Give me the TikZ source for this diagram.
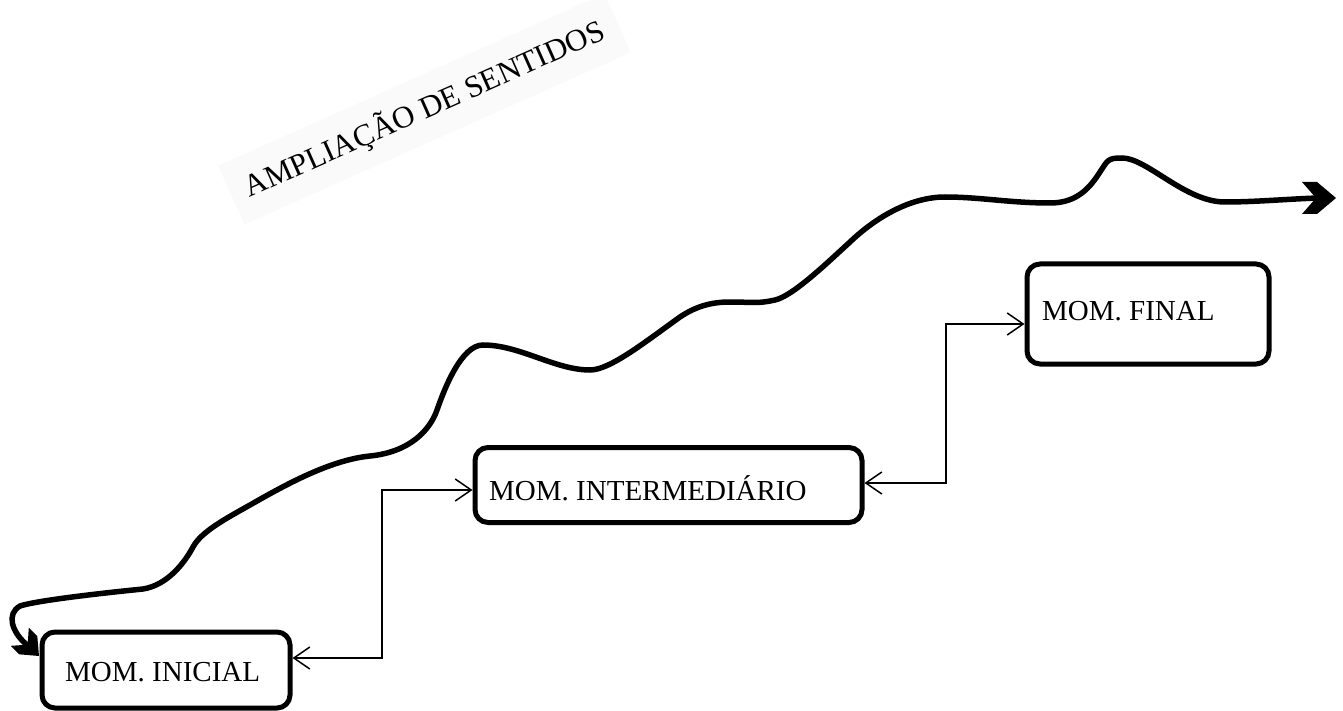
\documentclass[tikz,border=0pt]{standalone}
\usepackage{fontspec}
\setmainfont{Liberation Serif}
\usetikzlibrary{arrows.meta,calc}
\begin{document}
\begin{tikzpicture}[x=1pt,y=-1pt,
  box/.style={draw, line width=5pt, rounded corners=13pt, inner sep=0pt},
  lbl/.style={anchor=base west, inner sep=0pt, font=\fontsize{29}{34}\selectfont},
  conn/.style={line width=1.5pt, {Straight Barb[length=16pt,width=22pt]}-{Straight Barb[length=16pt,width=22pt]}},
  wave/.style={line width=5.5pt, line cap=round},
  chev/.pic={\fill (0,0) -- (-19,-16) -- (-34,-16) -- (-20,0) -- (-34,16) -- (-19,16) -- cycle;}]
\useasboundingbox (0,0) rectangle (1343,711);

% title
\node[rotate=24, anchor=base west, font=\fontsize{31}{36}\selectfont, fill=black!2, inner sep=16pt] (title) at (235,204) {AMPLIAÇÃO DE SENTIDOS};

% boxes
\node[box, minimum width=248pt, minimum height=76pt] (b1) at (166,670) {};
\node[box, minimum width=387pt, minimum height=75pt] (b2) at (668.5,485) {};
\node[box, minimum width=242pt, minimum height=100pt] (b3) at (1148,314) {};
\node[lbl] (t1) at (65,681) {MOM. INICIAL};
\node[lbl] (t2) at (489,500) {MOM. INTERMEDIÁRIO};
\node[lbl] (t3) at (1042,320) {MOM. FINAL};

% connectors
\coordinate (j1) at (382,0);
\coordinate (j2) at (946,0);
\coordinate (p1) at ([yshift=12pt]b1.east);
\coordinate (p2) at ([yshift=-5pt]b2.west);
\coordinate (p3) at ([yshift=2pt]b2.east);
\coordinate (p4) at ([yshift=-10pt]b3.west);
\draw[conn] (p1) -- (p1 -| j1) -- (j1 |- p2) -- (p2);
\draw[conn] (p3) -- (p3 -| j2) -- (j2 |- p4) -- (p4);

% wave
\coordinate (ws) at (26,644);
\coordinate (we) at (1318,198);
\draw[wave] (ws)
  .. controls +(-14,-12) and +(-14,8) .. (20,606)
  .. controls +(15,-5) and +(-50,5) .. (143,589)
  .. controls +(25,-4) and +(-8,15) .. (193,547)
  .. controls +(8,-15) and +(-25,14) .. (250,505)
  .. controls +(35,-20) and +(-40,4) .. (370,456)
  .. controls +(40,-4) and +(-7,20) .. (437,410)
  .. controls +(7,-20) and +(-22,0) .. (483,345)
  .. controls +(37,0) and +(-35,0) .. (590,370)
  .. controls +(20,0) and +(-35,25) .. (680,317)
  .. controls +(15,-10) and +(-20,0) .. (730,302)
  .. controls +(22,0) and +(-18,4) .. (775,300)
  .. controls +(18,-4) and +(-22,20) .. (850,242)
  .. controls +(25,-24) and +(-35,0) .. (945,197)
  .. controls +(35,0) and +(-40,0) .. (1050,203)
  .. controls +(25,0) and +(-10,15) .. (1098,175)
  .. controls +(10,-15) and +(-15,0) .. (1122,158)
  .. controls +(25,0) and +(-40,0) .. (1225,202)
  .. controls +(30,0) and +(-30,1) .. (we);
\pic[scale=0.8, rotate=-45] at (39,656) {chev};
\pic at (1336,198) {chev};
\end{tikzpicture}
\end{document}
